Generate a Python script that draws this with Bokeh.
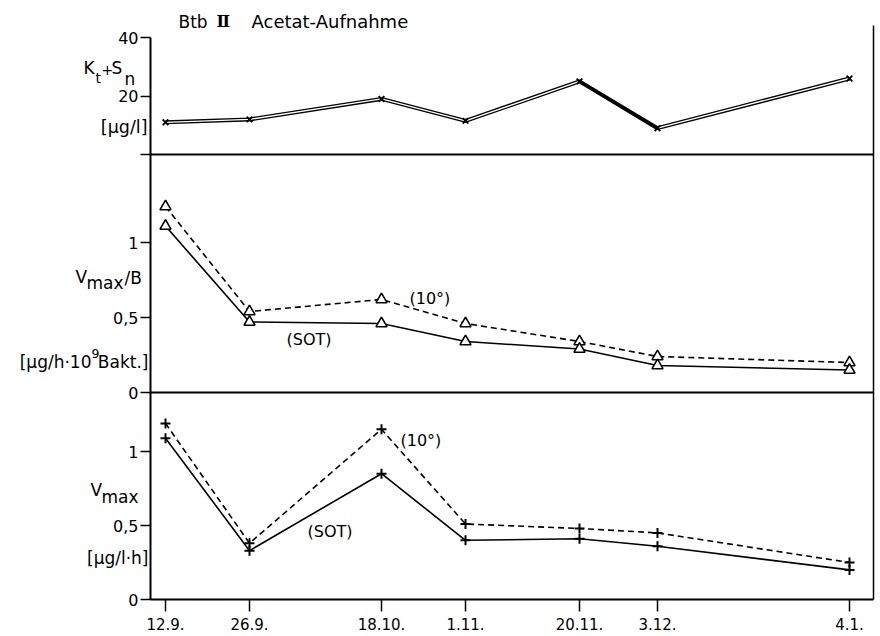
from bokeh.plotting import figure
from bokeh.models import Range1d, LinearAxis, FixedTicker, Label
from bokeh.embed import file_html
from bokeh.resources import INLINE

# ---- data ----
days = [0, 14, 36, 50, 69, 82, 114]          # days after 12.9.
date_labels = ["12.9.", "26.9.", "18.10.", "1.11.", "20.11.", "3.12.", "4.1."]
kt_sn = [11, 12, 19, 11.5, 25, 9, 26]                    # Kt+Sn [µg/l]
vmaxb_10 = [1.24, 0.54, 0.62, 0.46, 0.34, 0.24, 0.20]    # Vmax/B (10°)
vmaxb_sot = [1.11, 0.47, 0.46, 0.34, 0.29, 0.18, 0.15]   # Vmax/B (SOT)
vmax_10 = [1.19, 0.38, 1.15, 0.51, 0.48, 0.45, 0.25]     # Vmax (10°)
vmax_sot = [1.09, 0.33, 0.85, 0.40, 0.41, 0.36, 0.20]    # Vmax (SOT)
top_ticks = [0, 20, 40]
mid_ticks = [0, 0.5, 1]
bot_ticks = [0, 0.5, 1]

FONT = "DejaVu Sans"

# ---- layout (pixels) ----
W, H = 880, 634
PX_PER_DAY = 6.0
AXIS_PX = 150          # left axis position
DAY0_PX = 165          # position of first date
RIGHT_PX = 873         # right border position
X_START = -DAY0_PX / PX_PER_DAY
X_END = (W - DAY0_PX) / PX_PER_DAY
X_AXIS = (AXIS_PX - DAY0_PX) / PX_PER_DAY
X_RIGHT = (RIGHT_PX - DAY0_PX) / PX_PER_DAY
# panels: name -> (px of value 0 from top, px per unit, vmax)
panels = {
    "top": (154, 117 / 40, 40.0),
    "mid": (392, 150.0, 238 / 150),
    "bot": (599, 148.0, 207 / 148),
}
BORDER_TOP_PX = 25

p = figure(frame_width=W, frame_height=H, x_range=Range1d(X_START, X_END),
           y_range=Range1d(0, 1), x_axis_location=None, y_axis_location=None,
           output_backend="svg", toolbar_location=None,
           min_border=0, outline_line_color=None,
           background_fill_color="white", border_fill_color="white")
p.grid.visible = False

p.extra_y_ranges = {name: Range1d((b - H) / s, b / s)
                    for name, (b, s, vmax) in panels.items()}

common = dict(axis_line_color="black", major_tick_line_color="black",
              minor_tick_line_color=None, major_tick_in=0,
              major_label_text_font=FONT, major_label_text_color="black")

# x axis at the bottom panel's zero line
xa = LinearAxis(y_range_name="bot", fixed_location=0,
                ticker=FixedTicker(ticks=days, minor_ticks=[]),
                major_label_overrides={d: l for d, l in zip(days, date_labels)},
                bounds=(X_AXIS, X_RIGHT), axis_line_width=2,
                major_tick_line_width=1.5, major_tick_out=12,
                major_label_standoff=6, major_label_text_font_size="15px",
                **common)
p.add_layout(xa, "below")

# separators between panels
for name in ["top", "mid"]:
    sep = LinearAxis(y_range_name=name, fixed_location=0,
                     ticker=FixedTicker(ticks=[], minor_ticks=[]),
                     bounds=(X_AXIS, X_RIGHT), axis_line_width=2,
                     major_label_text_font_size="1px", **common)
    p.add_layout(sep, "below")

# left axes
tick_sets = {"top": top_ticks, "mid": mid_ticks, "bot": bot_ticks}
for name, ticks in tick_sets.items():
    vmax = panels[name][2]
    overrides = {t: ("0,5" if t == 0.5 else str(t)) for t in ticks}
    if name == "top":
        overrides[0] = ""
    ax = LinearAxis(y_range_name=name, fixed_location=X_AXIS,
                    ticker=FixedTicker(ticks=ticks, minor_ticks=[]),
                    bounds=(0, vmax), major_label_overrides=overrides,
                    axis_line_width=2, major_tick_line_width=1.5,
                    major_tick_out=10, major_label_standoff=2,
                    major_label_text_font_size="16px", **common)
    p.add_layout(ax, "left")

# right border
b_bot, s_bot, _ = panels["bot"]
rb = LinearAxis(y_range_name="bot", fixed_location=X_RIGHT,
                ticker=FixedTicker(ticks=[], minor_ticks=[]),
                bounds=(0, (b_bot - BORDER_TOP_PX) / s_bot),
                axis_line_width=1.5, major_label_text_font_size="1px",
                **common)
p.add_layout(rb, "right")

# ---- top panel: double line ----
p.line(days, kt_sn, y_range_name="top", line_color="black", line_width=4)
p.line(days[:5], kt_sn[:5], y_range_name="top", line_color="white", line_width=1.4)
p.line(days[5:], kt_sn[5:], y_range_name="top", line_color="white", line_width=1.4)
p.scatter(days, kt_sn, y_range_name="top", marker="x", size=8,
          line_color="black", line_width=1.8)

# ---- middle panel ----
p.line(days, vmaxb_10, y_range_name="mid", line_color="black",
       line_width=1.6, line_dash="6 4")
p.line(days, vmaxb_sot, y_range_name="mid", line_color="black", line_width=1.6)
for ys in (vmaxb_10, vmaxb_sot):
    p.scatter(days, ys, y_range_name="mid", marker="triangle", size=11,
              fill_color="white", line_color="black", line_width=1.6)

# ---- bottom panel ----
p.line(days, vmax_10, y_range_name="bot", line_color="black",
       line_width=1.6, line_dash="6 4")
p.line(days, vmax_sot, y_range_name="bot", line_color="black", line_width=1.6)
for ys in (vmax_10, vmax_sot):
    p.scatter(days, ys, y_range_name="bot", marker="cross", size=10,
              line_color="black", line_width=2)


# ---- texts ----
def put(text, rx, ry, align="left", size=16, font=FONT, style="normal"):
    p.add_layout(Label(x=X_AXIS, y=0, x_offset=rx - AXIS_PX,
                       y_offset=H - ry, text=text,
                       text_align=align, text_baseline="middle",
                       text_font=font, text_font_size=f"{size}px",
                       text_font_style=style, text_color="black"))


put("Btb", 178, 21, size=17)
put("Ⅱ", 216, 21, size=16, font="DejaVu Serif", style="bold")
put("Acetat-Aufnahme", 251, 21, size=18)

# Kt+Sn
put("K", 83, 67, size=17)
put("t", 95, 77, size=14)
put("+", 101, 69, size=14)
put("S", 111, 67, size=17)
put("n", 124, 78, size=17)
put("[µg/l]", 147, 126, align="right", size=17.5)

# Vmax/B
put("V", 75, 276, size=17)
put("max", 86, 282, size=17)
put("/B", 124, 277, size=17)
put("[µg/h·10", 91, 361, align="right", size=17)
put("9", 91, 353, size=12.5)
put("Bakt.]", 148, 361, align="right", size=17)
put("(10°)", 409, 298, size=16)
put("(SOT)", 286, 339, size=16)

# Vmax
put("V", 90, 489, size=17)
put("max", 101, 496, size=17)
put("[µg/l·h]", 148, 557, align="right", size=17)
put("(SOT)", 307, 531, size=16)
put("(10°)", 400, 440, size=16)

open("out.html", "w").write(file_html(p, INLINE))
